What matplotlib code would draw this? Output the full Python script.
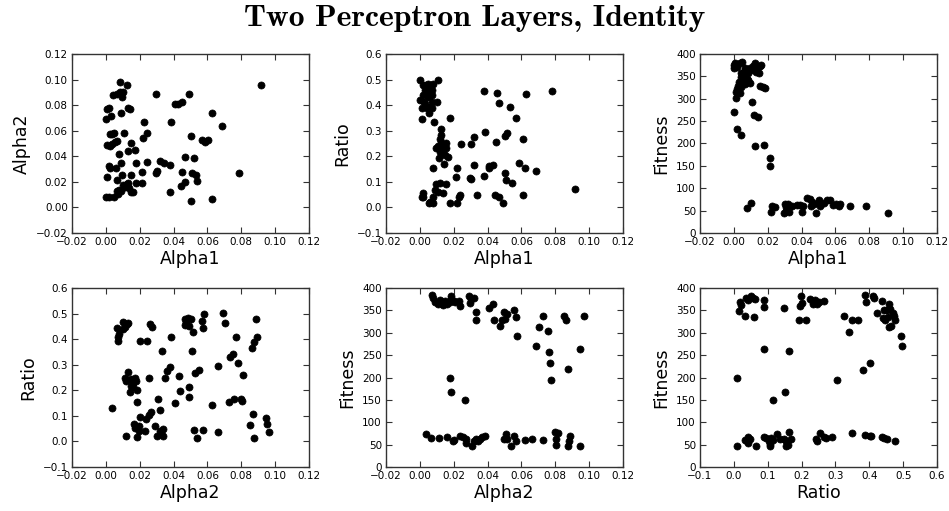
#!/usr/bin/env python3
"""Scatter matrix of the two-layer perceptron runs (identity activation)."""
import matplotlib
matplotlib.use("Agg")
import matplotlib.pyplot as plt

TITLE = "Two Perceptron Layers, Identity"

# Alpha1 vs Alpha2
p1_x = [0.0916, 0.0082, 0.0122, 0.0043, 0.0063, 0.0082, 0.0102, 0.0098, 0.0298, 0.049,
        0.0406, 0.0425, 0.0451, 0.0004, 0.002, 0.0131, 0.0141, 0.0088, 0.0627, 0.0,
        0.0033, 0.0225, 0.0382, 0.0686, 0.0024, 0.0039, 0.0047, 0.0108, 0.0243, 0.022,
        0.0504, 0.0569, 0.0586, 0.0606, 0.0008, 0.0024, 0.0037, 0.0053, 0.0067, 0.0151,
        0.0131, 0.0173, 0.0078, 0.0469, 0.052, 0.0322, 0.0341, 0.0245, 0.018, 0.0088,
        0.002, 0.0024, 0.0059, 0.0376, 0.0304, 0.0298, 0.0451, 0.0216, 0.0784, 0.051,
        0.0533, 0.0004, 0.0094, 0.0149, 0.0063, 0.0541, 0.0467, 0.018, 0.0216, 0.0102,
        0.0122, 0.0131, 0.0112, 0.0135, 0.0147, 0.0161, 0.0067, 0.0078, 0.0088, 0.0443,
        0.0376, 0.0049, 0.0073, 0.0, 0.0018, 0.05, 0.0627]
p1_y = [0.0958, 0.098, 0.096, 0.088, 0.089, 0.090, 0.090, 0.086, 0.0885, 0.0885,
        0.0807, 0.0807, 0.0822, 0.077, 0.078, 0.078, 0.077, 0.074, 0.0739, 0.0695,
        0.0715, 0.067, 0.067, 0.064, 0.0574, 0.0572, 0.058, 0.058, 0.0585, 0.0546,
        0.0561, 0.0527, 0.0509, 0.0527, 0.0486, 0.048, 0.0496, 0.0514, 0.052, 0.050,
        0.0444, 0.0449, 0.0418, 0.0392, 0.0386, 0.0366, 0.0347, 0.0355, 0.0345, 0.0345,
        0.0321, 0.0305, 0.0305, 0.0332, 0.0287, 0.0266, 0.0279, 0.0277, 0.0269, 0.0266,
        0.0253, 0.024, 0.0251, 0.0253, 0.0214, 0.0206, 0.0198, 0.0188, 0.0188, 0.0175,
        0.0183, 0.0193, 0.0162, 0.0154, 0.0123, 0.012, 0.0131, 0.0136, 0.0128, 0.0167,
        0.0123, 0.0084, 0.0104, 0.0081, 0.0078, 0.005, 0.0068]

# Alpha1 vs Ratio
p2_x = [0.0, 0.0108, 0.002, 0.0035, 0.0049, 0.0063, 0.0075, 0.0043, 0.0059, 0.0029,
        0.0069, 0.0055, 0.0039, 0.002, 0.0069, 0.0049, 0.0, 0.0024, 0.0069, 0.0104,
        0.0029, 0.0059, 0.001, 0.0043, 0.0069, 0.0055, 0.001, 0.0084, 0.0178, 0.0378,
        0.0453, 0.0627, 0.078, 0.047, 0.0535, 0.0565, 0.0127, 0.0382, 0.0516, 0.0504,
        0.032, 0.0608, 0.0127, 0.0118, 0.0447, 0.0245, 0.030, 0.0124, 0.0141, 0.0157,
        0.0108, 0.0127, 0.0153, 0.0098, 0.0118, 0.0137, 0.0167, 0.0114, 0.0147, 0.0584,
        0.032, 0.0406, 0.0431, 0.0408, 0.0141, 0.0624, 0.0686, 0.0075, 0.022, 0.050,
        0.0376, 0.0212, 0.0294, 0.0304, 0.051, 0.0543, 0.0094, 0.0118, 0.0153, 0.0088,
        0.0108, 0.0137, 0.0914, 0.002, 0.001, 0.002, 0.0337, 0.0441, 0.0467, 0.0608,
        0.0078, 0.0059, 0.0078, 0.0053, 0.0176, 0.022, 0.0231, 0.0239, 0.049]
p2_y = [0.499, 0.499, 0.479, 0.479, 0.483, 0.477, 0.482, 0.466, 0.466, 0.46,
        0.46, 0.449, 0.444, 0.44, 0.44, 0.431, 0.42, 0.414, 0.414, 0.411,
        0.405, 0.394, 0.388, 0.388, 0.39, 0.368, 0.345, 0.333, 0.351, 0.454,
        0.449, 0.443, 0.457, 0.407, 0.392, 0.351, 0.305, 0.294, 0.292, 0.279,
        0.274, 0.269, 0.283, 0.266, 0.257, 0.247, 0.247, 0.251, 0.247, 0.253,
        0.24, 0.234, 0.231, 0.231, 0.218, 0.214, 0.196, 0.192, 0.205, 0.175,
        0.166, 0.162, 0.166, 0.155, 0.168, 0.155, 0.144, 0.153, 0.153, 0.133,
        0.124, 0.12, 0.114, 0.11, 0.107, 0.094, 0.09, 0.094, 0.09, 0.068,
        0.061, 0.055, 0.072, 0.055, 0.042, 0.039, 0.05, 0.05, 0.042, 0.05,
        0.039, 0.022, 0.018, 0.016, 0.016, 0.016, 0.042, 0.048, 0.016]

# Alpha1 vs Fitness
p3_x = [0.0, 0.0006, 0.002, 0.0035, 0.0051, 0.0, 0.0065, 0.0075, 0.0059, 0.0045,
        0.0065, 0.0084, 0.0094, 0.0104, 0.0114, 0.0124, 0.0133, 0.0137, 0.0153, 0.0159,
        0.0129, 0.0149, 0.0041, 0.0055, 0.0075, 0.0084, 0.0031, 0.0065, 0.0094, 0.0025,
        0.0045, 0.002, 0.0153, 0.0173, 0.0182, 0.0035, 0.0012, 0.001, 0.0108, 0.0,
        0.0118, 0.0143, 0.002, 0.0041, 0.0127, 0.0178, 0.0216, 0.0212, 0.0075, 0.0104,
        0.0224, 0.0222, 0.0245, 0.030, 0.031, 0.032, 0.0296, 0.031, 0.0325, 0.0345,
        0.0373, 0.0388, 0.0404, 0.0408, 0.0433, 0.0447, 0.0463, 0.0457, 0.0473, 0.0486,
        0.0502, 0.0516, 0.0506, 0.0535, 0.0549, 0.0565, 0.0584, 0.0604, 0.062, 0.0627,
        0.0686, 0.078, 0.0912]
p3_y = [375, 381, 372, 379, 383, 369, 368, 364, 360, 357,
        355, 357, 368, 364, 373, 379, 372, 366, 373, 375,
        360, 357, 349, 345, 345, 342, 338, 334, 336, 328,
        327, 321, 328, 327, 324, 312, 316, 301, 292, 270,
        263, 259, 232, 218, 194, 197, 167, 150, 55, 68,
        61, 46, 58, 65, 58, 65, 44, 49, 46, 60,
        63, 63, 46, 60, 79, 76, 69, 60, 65, 44,
        73, 65, 61, 67, 73, 74, 63, 64, 60, 65,
        61, 60, 45]

# Alpha2 vs Ratio
p4_x = [0.0037, 0.0063, 0.0078, 0.0073, 0.0074, 0.0102, 0.0112, 0.0102, 0.0122, 0.0131,
        0.0112, 0.0118, 0.0131, 0.0147, 0.0161, 0.0171, 0.0176, 0.0151, 0.0145, 0.0184,
        0.0161, 0.0184, 0.020, 0.0243, 0.0263, 0.0275, 0.0255, 0.0331, 0.0386, 0.0347,
        0.0363, 0.0376, 0.020, 0.0165, 0.0171, 0.0194, 0.0194, 0.0186, 0.0118, 0.0229,
        0.0239, 0.0255, 0.0269, 0.0322, 0.0308, 0.0288, 0.0302, 0.0318, 0.0337, 0.0337,
        0.0327, 0.041, 0.0435, 0.0439, 0.0469, 0.0475, 0.0484, 0.0465, 0.0494, 0.0504,
        0.0514, 0.051, 0.0494, 0.0494, 0.0524, 0.055, 0.0522, 0.0539, 0.0576, 0.0567,
        0.058, 0.0573, 0.069, 0.0704, 0.0661, 0.0627, 0.0661, 0.0725, 0.0733, 0.0749,
        0.0769, 0.0778, 0.0759, 0.0798, 0.0804, 0.0812, 0.0851, 0.0876, 0.0871, 0.0863,
        0.0873, 0.0886, 0.0892, 0.0945, 0.0951, 0.0965]
p4_y = [0.131, 0.442, 0.419, 0.407, 0.394, 0.466, 0.446, 0.44, 0.459, 0.463,
        0.249, 0.236, 0.272, 0.243, 0.23, 0.249, 0.236, 0.217, 0.193, 0.203,
        0.213, 0.154, 0.391, 0.391, 0.459, 0.449, 0.249, 0.354, 0.407, 0.249,
        0.276, 0.293, 0.094, 0.068, 0.052, 0.059, 0.039, 0.016, 0.02, 0.039,
        0.088, 0.105, 0.115, 0.122, 0.164, 0.059, 0.022, 0.039, 0.05, 0.02,
        0.033, 0.151, 0.256, 0.199, 0.479, 0.466, 0.482, 0.455, 0.45, 0.479,
        0.426, 0.354, 0.214, 0.173, 0.269, 0.278, 0.046, 0.013, 0.046, 0.472,
        0.499, 0.444, 0.501, 0.463, 0.295, 0.144, 0.035, 0.154, 0.332, 0.341,
        0.407, 0.308, 0.167, 0.167, 0.157, 0.259, 0.063, 0.013, 0.109, 0.367,
        0.387, 0.479, 0.409, 0.092, 0.07, 0.035]

# Alpha2 vs Fitness
p5_x = [0.0069, 0.0075, 0.0088, 0.0108, 0.0127, 0.0147, 0.0161, 0.0176, 0.0186, 0.0182,
        0.020, 0.0118, 0.0137, 0.0206, 0.0231, 0.0239, 0.0288, 0.030, 0.0318, 0.0298,
        0.0333, 0.0333, 0.0408, 0.0435, 0.0437, 0.0471, 0.0486, 0.0496, 0.0514, 0.050,
        0.0559, 0.0569, 0.0575, 0.0686, 0.0702, 0.0725, 0.0755, 0.0761, 0.0769, 0.0775,
        0.0849, 0.0863, 0.0873, 0.0947, 0.0967, 0.018, 0.0182, 0.0265, 0.0039, 0.0065,
        0.0114, 0.0161, 0.020, 0.0196, 0.0239, 0.0255, 0.0271, 0.0275, 0.0308, 0.032,
        0.0343, 0.0353, 0.0369, 0.0386, 0.0329, 0.0506, 0.0496, 0.0516, 0.0539, 0.0555,
        0.0569, 0.0624, 0.0661, 0.0725, 0.080, 0.0814, 0.0804, 0.0804, 0.0888, 0.0882,
        0.0873, 0.0947]
p5_y = [385, 377, 369, 364, 368, 372, 364, 368, 375, 383,
        372, 373, 362, 368, 372, 359, 383, 375, 378, 366,
        347, 328, 355, 364, 328, 315, 328, 347, 343, 330,
        351, 336, 293, 271, 313, 338, 303, 258, 233, 194,
        338, 328, 218, 263, 338, 198, 167, 149, 73, 64,
        64, 66, 61, 57, 70, 66, 63, 53, 48, 58,
        58, 63, 67, 70, 62, 73, 62, 62, 47, 70,
        57, 61, 62, 61, 79, 77, 62, 49, 70, 58,
        46, 46]

# Ratio vs Fitness
p6_x = [0.0102, 0.0181, 0.020, 0.016, 0.0348, 0.0427, 0.0506, 0.0575, 0.0624, 0.0328,
        0.0594, 0.0889, 0.0889, 0.0899, 0.1165, 0.151, 0.149, 0.1628, 0.1953, 0.1973,
        0.2022, 0.1933, 0.212, 0.2248, 0.2327, 0.2396, 0.2347, 0.2465, 0.2514, 0.2671,
        0.3035, 0.3262, 0.3409, 0.3478, 0.3655, 0.3823, 0.3872, 0.3892, 0.402, 0.4098,
        0.4147, 0.4216, 0.4364, 0.4394, 0.4433, 0.4462, 0.4511, 0.458, 0.459, 0.463,
        0.461, 0.4708, 0.4738, 0.4758, 0.4935, 0.4955, 0.4561, 0.0102, 0.0328, 0.0378,
        0.0427, 0.0476, 0.0407, 0.0653, 0.0899, 0.0949, 0.1047, 0.1067, 0.1067, 0.1087,
        0.1165, 0.1264, 0.1362, 0.149, 0.1539, 0.1539, 0.1637, 0.1677, 0.161, 0.2425,
        0.2445, 0.2543, 0.2671, 0.272, 0.2888, 0.3478, 0.3872, 0.402, 0.405, 0.4364,
        0.4433, 0.4511, 0.4758]
p6_y = [198, 368, 361, 348, 377, 373, 383, 377, 375, 338,
        336, 373, 358, 263, 149, 167, 356, 259, 360, 383,
        366, 328, 329, 375, 369, 374, 364, 364, 369, 372,
        194, 338, 302, 328, 328, 216, 384, 369, 233, 383,
        377, 345, 370, 334, 351, 328, 350, 364, 313, 315,
        353, 345, 338, 328, 293, 270, 336, 46, 61, 57,
        66, 62, 53, 46, 66, 64, 57, 46, 51, 64,
        61, 73, 62, 62, 46, 57, 79, 62, 49, 62,
        57, 77, 68, 64, 66, 76, 72, 70, 70, 66,
        64, 62, 57]

ALPHA_TICKS = [-0.02, 0.0, 0.02, 0.04, 0.06, 0.08, 0.10, 0.12]
RATIO_TICKS = [-0.1, 0.0, 0.1, 0.2, 0.3, 0.4, 0.5, 0.6]
FITNESS_TICKS = [0, 50, 100, 150, 200, 250, 300, 350, 400]

panels = [
    (p1_x, p1_y, "Alpha1", "Alpha2", ALPHA_TICKS, ALPHA_TICKS),
    (p2_x, p2_y, "Alpha1", "Ratio", ALPHA_TICKS, RATIO_TICKS),
    (p3_x, p3_y, "Alpha1", "Fitness", ALPHA_TICKS, FITNESS_TICKS),
    (p4_x, p4_y, "Alpha2", "Ratio", ALPHA_TICKS, RATIO_TICKS),
    (p5_x, p5_y, "Alpha2", "Fitness", ALPHA_TICKS, FITNESS_TICKS),
    (p6_x, p6_y, "Ratio", "Fitness", RATIO_TICKS, FITNESS_TICKS),
]

W, H = 949, 511
lefts = [72, 386, 700]
bottoms = [233, 467]


def main() -> None:
    fig = plt.figure(figsize=(W / 100, H / 100), dpi=100)
    fig.patch.set_facecolor("white")
    for i, (xs, ys, xlabel, ylabel, xticks, yticks) in enumerate(panels):
        row, col = divmod(i, 3)
        left = lefts[col] / W
        bottom = 1 - bottoms[row] / H
        ax = fig.add_axes([left, bottom, 237 / W, 179 / H])
        ax.scatter(xs, ys, s=26, c="black", edgecolors="black", linewidths=0.5, zorder=3)
        ax.set_xticks(xticks)
        ax.set_yticks(yticks)
        ax.set_xlim(xticks[0], xticks[-1])
        ax.set_ylim(yticks[0], yticks[-1])
        ax.tick_params(direction="in", top=True, right=True, length=4, width=0.8,
                       labelsize=7.5, pad=3, color="#333333")
        for spine in ax.spines.values():
            spine.set_linewidth(1.0)
            spine.set_color("#333333")
        ax.set_xlabel(xlabel, fontsize=12.5, labelpad=2)
        ax.set_ylabel(ylabel, fontsize=12.5, labelpad=4)
    # bundled Computer Modern bold face for the headline
    fig.text(0.5, 0.964, TITLE, ha="center", va="center", fontsize=22.8, fontname="cmb10")
    fig.savefig("out.png", dpi=100, facecolor="white")
    plt.close(fig)


if __name__ == "__main__":
    main()
